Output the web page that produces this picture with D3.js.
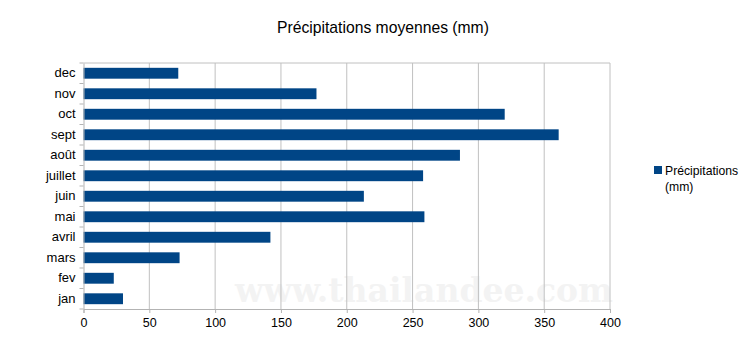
<!DOCTYPE html>
<html>
<head>
<meta charset="utf-8">
<script src="https://cdn.jsdelivr.net/npm/d3@7"></script>
<style>
  body { margin: 0; background: #fff; }
  svg { display: block; font-family: "Liberation Sans", Arial, sans-serif; }
</style>
</head>
<body>
<script>
'use strict';

const width = 750, height = 354;

// data (bottom to top on the chart)
const months = ['jan', 'fev', 'mars', 'avril', 'mai', 'juin', 'juillet', 'août', 'sept', 'oct', 'nov', 'dec'];
const rain = [30, 23, 73, 142, 259, 213, 258, 286, 361, 320, 177, 72];
const xTicks = [0, 50, 100, 150, 200, 250, 300, 350, 400];

const margin = { left: 83.5, right: 140, top: 63, bottom: 45 };

let svg = d3.select('body').append('svg')
  .attr('width', width)
  .attr('height', height);

let x = d3.scaleLinear()
  .domain([0, 400])
  .range([margin.left, width - margin.right]);

let y = d3.scaleBand()
  .domain(months.slice().reverse())
  .range([margin.top, height - margin.bottom])
  .paddingInner(0.47)
  .paddingOuter(0.235);

// watermark
svg.append('text')
  .attr('x', 424)
  .attr('y', 302)
  .attr('text-anchor', 'middle')
  .attr('font-family', '"DejaVu Serif", "Liberation Serif", serif')
  .attr('font-weight', 'bold')
  .attr('font-size', 33)
  .attr('fill', '#f3f3f3')
  .text('www.thailandee.com');

// grid
svg.append('g')
  .selectAll('line')
  .data(xTicks.slice(1))
  .join('line')
  .attr('x1', d => x(d)).attr('x2', d => x(d))
  .attr('y1', margin.top).attr('y2', height - margin.bottom)
  .attr('stroke', '#c0c0c0')
  .attr('stroke-width', 1);

svg.append('line')
  .attr('x1', margin.left).attr('x2', x(400))
  .attr('y1', margin.top).attr('y2', margin.top)
  .attr('stroke', '#c0c0c0');

// bars
svg.append('g')
  .selectAll('rect')
  .data(months)
  .join('rect')
  .attr('x', x(0))
  .attr('y', d => y(d))
  .attr('height', y.bandwidth())
  .attr('width', (d, i) => x(rain[i]) - x(0))
  .attr('fill', '#004586');

// x axis
let xAxis = svg.append('g')
  .attr('transform', `translate(0,${height - margin.bottom})`)
  .call(d3.axisBottom(x).tickValues(xTicks).tickSize(4).tickPadding(5));
xAxis.select('.domain').attr('stroke', '#b3b3b3');
xAxis.selectAll('.tick line').attr('stroke', '#b3b3b3');
xAxis.selectAll('text').attr('font-size', 12.5).attr('fill', '#000')
  .attr('font-family', '"Liberation Sans", Arial, sans-serif');

// y axis
let yAxis = svg.append('g')
  .attr('transform', `translate(${margin.left},0)`)
  .call(d3.axisLeft(y).tickSize(0).tickPadding(8));
yAxis.select('.domain').attr('stroke', '#b3b3b3');
yAxis.selectAll('text').attr('font-size', 13).attr('fill', '#000')
  .attr('font-family', '"Liberation Sans", Arial, sans-serif');

// category separator ticks
const step = y.step();
svg.append('g')
  .selectAll('line')
  .data(d3.range(months.length + 1))
  .join('line')
  .attr('x1', margin.left - 4).attr('x2', margin.left)
  .attr('y1', i => margin.top + i * step)
  .attr('y2', i => margin.top + i * step)
  .attr('stroke', '#b3b3b3');

// title
svg.append('text')
  .attr('x', 383)
  .attr('y', 33)
  .attr('text-anchor', 'middle')
  .attr('font-size', 15.7)
  .attr('fill', '#000')
  .text('Précipitations moyennes (mm)');

// legend
let legend = svg.append('g').attr('transform', 'translate(654,166)');
legend.append('rect')
  .attr('width', 8).attr('height', 8)
  .attr('fill', '#004586');
legend.append('text')
  .attr('x', 11).attr('y', 9)
  .attr('font-size', 12.2)
  .text('Précipitations');
legend.append('text')
  .attr('x', 11).attr('y', 25)
  .attr('font-size', 12.2)
  .text('(mm)');
</script>
</body>
</html>
